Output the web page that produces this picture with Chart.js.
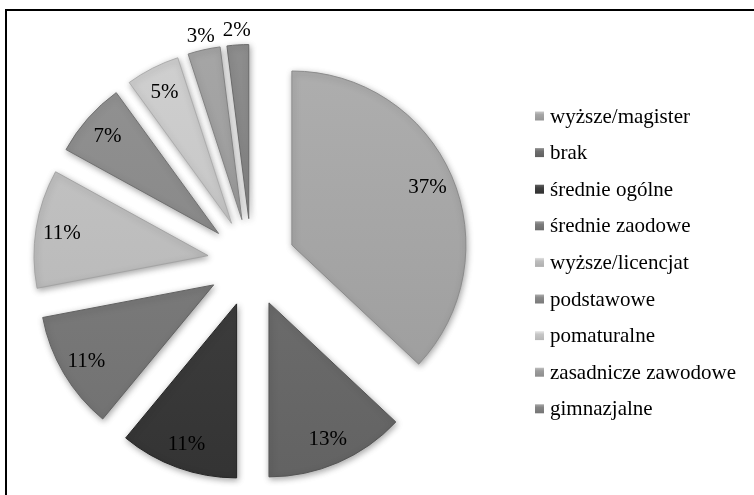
<!DOCTYPE html>
<html><head><meta charset="utf-8">
<script src="https://cdn.jsdelivr.net/npm/chart.js@4.4.1/dist/chart.umd.min.js"></script>
<style>html,body{margin:0;padding:0;background:#fff;}#wrap{position:relative;width:754px;height:495px;}
#probe{position:absolute;left:-9999px;top:0;font-family:"Liberation Serif";font-size:21px;}</style>
</head><body><div id="wrap"><canvas id="c" width="754" height="495"></canvas></div>
<div id="probe">wyższe średnie 37%</div>
<script>
const categories = ['wyższe/magister','brak','średnie ogólne','średnie zaodowe','wyższe/licencjat','podstawowe','pomaturalne','zasadnicze zawodowe','gimnazjalne'];
const shares = [37,13,11,11,11,7,5,3,2];
const percentLabels = ['37%','13%','11%','11%','11%','7%','5%','3%','2%'];
const sliceColors = ['#a5a5a5','#6e6e6e','#3f3f3f','#7b7b7b','#bdbdbd','#898989','#c6c6c6','#9c9c9c','#848484'];

function shade(hex, amt){
  const n = parseInt(hex.slice(1),16);
  const f = v => Math.max(0, Math.min(255, v + amt));
  return 'rgb(' + f(n>>16) + ',' + f((n>>8)&255) + ',' + f(n&255) + ')';
}

const EXPLODE = 44;
const SERIF = "'Liberation Serif', 'Times New Roman', 'DejaVu Serif', serif";

const frame = {
  id: 'frame',
  beforeDraw(chart){
    const ctx = chart.ctx;
    ctx.save();
    ctx.fillStyle = '#fff';
    ctx.fillRect(0,0,chart.width,chart.height);
    ctx.strokeStyle = '#000';
    ctx.lineWidth = 2;
    ctx.strokeRect(6, 10, chart.width + 20, chart.height + 20);
    ctx.restore();
  }
};

const explode = {
  id: 'explode',
  beforeDatasetsDraw(chart){
    const a = chart.chartArea;
    const cx = (a.left + a.right) / 2, cy = (a.top + a.bottom) / 2;
    chart.getDatasetMeta(0).data.forEach(el => {
      const mid = (el.startAngle + el.endAngle) / 2;
      el.x = cx + EXPLODE * Math.cos(mid);
      el.y = cy + EXPLODE * Math.sin(mid);
    });
    const ctx = chart.ctx;
    ctx.save();
    ctx.shadowColor = 'rgba(0,0,0,0.35)';
    ctx.shadowBlur = 6;
    ctx.shadowOffsetX = 1;
    ctx.shadowOffsetY = 2;
  },
  afterDatasetsDraw(chart){
    const ctx = chart.ctx;
    ctx.restore();
    ctx.save();
    ctx.font = '21px ' + SERIF;
    ctx.fillStyle = '#000';
    ctx.textAlign = 'center';
    ctx.textBaseline = 'middle';
    chart.getDatasetMeta(0).data.forEach((el, i) => {
      const mid = (el.startAngle + el.endAngle) / 2;
      const r = shares[i] <= 3 ? el.outerRadius + 15 : el.outerRadius * 0.85;
      ctx.fillText(percentLabels[i], el.x + r * Math.cos(mid), el.y + r * Math.sin(mid) + 1);
    });
    ctx.restore();
  }
};

const legendRight = {
  id: 'legendRight',
  afterDraw(chart){
    const ctx = chart.ctx;
    ctx.save();
    ctx.font = '21px ' + SERIF;
    ctx.textBaseline = 'middle';
    ctx.textAlign = 'left';
    const x0 = 535, y0 = 116, step = 36.6, bs = 9;
    categories.forEach((lab, i) => {
      const y = y0 + i * step;
      const g = ctx.createLinearGradient(0, y - bs/2, 0, y + bs/2);
      g.addColorStop(0, shade(sliceColors[i], 35));
      g.addColorStop(0.35, sliceColors[i]);
      g.addColorStop(1, shade(sliceColors[i], -15));
      ctx.fillStyle = g;
      ctx.fillRect(x0, y - bs/2, bs, bs);
      ctx.fillStyle = '#000';
      ctx.fillText(lab, 550, y + 1);
    });
    ctx.restore();
  }
};

function build(){
  new Chart(document.getElementById('c'), {
    type: 'pie',
    data: {
      labels: categories,
      datasets: [{
        data: shares,
        radius: 174,
        backgroundColor: (c) => {
          const base = sliceColors[c.dataIndex];
          const a = c.chart.chartArea;
          if (!a) return base;
          const g = c.chart.ctx.createLinearGradient(0, 40, 0, 490);
          g.addColorStop(0, shade(base, 10));
          g.addColorStop(1, shade(base, -12));
          return g;
        },
        borderColor: sliceColors.map(c => shade(c, -25)),
        borderWidth: 1
      }]
    },
    plugins: [frame, explode, legendRight],
    options: {
      responsive: false,
      devicePixelRatio: 1,
      animation: false,
      events: [],
      layout: { padding: { left: 0, right: 251, top: 30, bottom: 0 } },
      plugins: { legend: { display: false }, tooltip: { enabled: false } }
    }
  });
}
if (document.fonts && document.fonts.load) {
  document.fonts.load("21px 'Liberation Serif'", 'wyższe').then(build, build);
} else { build(); }
</script></body></html>
